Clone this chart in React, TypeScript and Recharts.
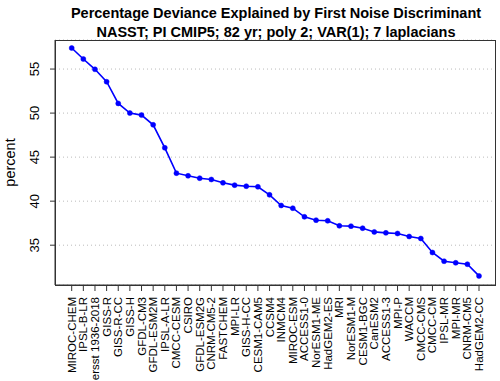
import { LineChart, Line, XAxis, YAxis, CartesianGrid } from 'recharts'

const models = [
  'MIROC-CHEM', 'IPSL-B-LR', 'ersst 1936-2018', 'GISS-R', 'GISS-R-CC', 'GISS-H',
  'GFDL-CM3', 'GFDL-ESM2M', 'IPSL-A-LR', 'CMCC-CESM', 'CSIRO', 'GFDL-ESM2G',
  'CNRM-CM5-2', 'FASTCHEM', 'MPI-LR', 'GISS-H-CC', 'CESM1-CAM5', 'CCSM4',
  'INMCM4', 'MIROC-ESM', 'ACCESS1-0', 'NorESM1-ME', 'HadGEM2-ES', 'MRI',
  'NorESM1-M', 'CESM1-BGC', 'CanESM2', 'ACCESS1-3', 'MPI-P', 'WACCM',
  'CMCC-CMS', 'CMCC-CM', 'IPSL-MR', 'MPI-MR', 'CNRM-CM5', 'HadGEM2-CC',
]

const percent = [
  57.39, 56.14, 54.97, 53.56, 51.1, 50.0,
  49.77, 48.67, 46.06, 43.18, 42.88, 42.61,
  42.46, 42.08, 41.82, 41.7, 41.63, 40.72,
  39.51, 39.2, 38.22, 37.84, 37.77, 37.2,
  37.16, 36.93, 36.51, 36.4, 36.33, 35.99,
  35.76, 34.17, 33.18, 33.0, 32.84, 31.51,
]

const yTicks = [35, 40, 45, 50, 55]

const titleLines = [
  'Percentage Deviance Explained by First Noise Discriminant',
  'NASST; PI CMIP5; 82 yr; poly 2; VAR(1); 7 laplacians',
]

const FONT = '"Liberation Sans", Arial, Helvetica, sans-serif'

const chartData = models.map((m, i) => ({ model: m, percent: percent[i] }))

function ModelTick(props: any) {
  const { x, y, payload } = props
  return (
    <text
      x={0}
      y={0}
      transform={`translate(${x + 4},${y + 4}) rotate(-90)`}
      textAnchor="end"
      fontSize={11.5}
      fontFamily={FONT}
      fill="#000"
    >
      {payload.value}
    </text>
  )
}

function PercentTick(props: any) {
  const { y, payload } = props
  return (
    <text
      x={0}
      y={0}
      transform={`translate(39,${y}) rotate(-90)`}
      textAnchor="middle"
      fontSize={13}
      fontFamily={FONT}
      fill="#000"
    >
      {payload.value}
    </text>
  )
}

export default function App() {
  return (
    <div style={{ position: 'absolute', left: 0, top: 0, width: 500, height: 381, background: '#fff' }}>
      <LineChart
        width={500}
        height={381}
        data={chartData}
        margin={{ top: 40, right: 5, bottom: 0, left: 0 }}
      >
        <CartesianGrid vertical={false} stroke="#bbb" strokeDasharray="1 3" />
        <XAxis
          dataKey="model"
          scale="point"
          interval={0}
          padding={{ left: 16.7, right: 16 }}
          height={96}
          tick={<ModelTick />}
          tickSize={6}
          axisLine={{ stroke: '#333' }}
          tickLine={{ stroke: '#333' }}
        />
        <YAxis
          domain={[30.48, 58.3]}
          ticks={yTicks}
          width={55}
          tick={<PercentTick />}
          tickSize={5}
          axisLine={{ stroke: '#333' }}
          tickLine={{ stroke: '#333' }}
          label={{
            value: 'percent',
            angle: -90,
            position: 'insideLeft',
            dx: 5,
            style: { fontSize: 14.5, fontFamily: FONT, fill: '#000', textAnchor: 'middle' },
          }}
        />
        <Line
          type="linear"
          dataKey="percent"
          stroke="#0000ff"
          strokeWidth={1.6}
          dot={{ r: 2.5, fill: '#0000ff', stroke: '#0000ff', strokeWidth: 0.5 }}
          activeDot={false}
          isAnimationActive={false}
        />
      </LineChart>
      <div
        style={{
          position: 'absolute', left: 55, top: 40, width: 439, height: 244,
          border: '1px solid #333', pointerEvents: 'none',
        }}
      />
      <svg width={500} height={40} style={{ position: 'absolute', left: 0, top: 0 }}>
        {titleLines.map((t, i) => (
          <text
            key={t}
            x={276}
            y={17.5 + i * 19.5}
            textAnchor="middle"
            fontSize={14.5}
            fontWeight="bold"
            fontFamily={FONT}
            fill="#000"
          >
            {t}
          </text>
        ))}
      </svg>
    </div>
  )
}
